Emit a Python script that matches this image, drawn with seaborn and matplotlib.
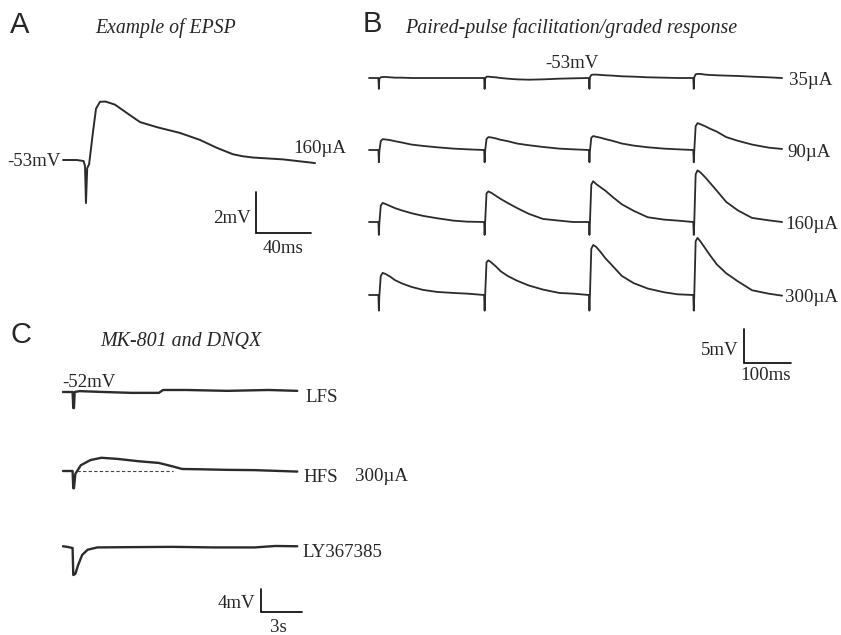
import matplotlib
matplotlib.use("Agg")
import matplotlib.pyplot as plt
import numpy as np
import pandas as pd
import seaborn as sns

# ---------------- DATA ----------------
# Panel A: example EPSP (time in ms, membrane potential in mV)
A_TIME_MS = [0, 10, 15, 16.0, 16.7, 17.6, 19.0, 21.5, 24.0, 26.9, 31.0, 37.8, 46.5, 56.0,
             68.4, 85.1, 99.6, 112.0, 123.6, 131.0, 138.2, 160.0, 183.3]
A_VM_MV = [-53.0, -53.0, -53.05, -53.3, -55.1, -53.4, -53.2, -51.8, -50.5, -50.16,
           -50.15, -50.3, -50.71, -51.15, -51.4, -51.68, -52.02, -52.41, -52.72,
           -52.82, -52.88, -52.97, -53.15]
A_REST = "-53mV"
A_STIM = "160µA"
A_SCALE_MS, A_SCALE_MV = 40, 2

# Panel B: paired-pulse facilitation / graded response (mV relative to -53 mV)
B_CURRENTS = ["35µA", "90µA", "160µA", "300µA"]
B_REST = "-53mV"
B_PULSE_ONSETS_MS = [20, 245, 468, 690]
B_REL_MS = [0, 1, 2, 5, 9, 15, 25, 35, 50, 70, 95, 125, 160, 189]
B_RESP_35 = [[0, -1.6, -0.1, 0.1, 0.15, 0.15, 0.1, 0.05, 0.05, 0, 0, 0, 0, 0],
             [0, -1.6, -0.1, 0.2, 0.2, 0.15, 0.1, 0, -0.1, -0.2, -0.25, -0.2, -0.1, -0.05],
             [0, -1.6, 0.1, 0.45, 0.5, 0.5, 0.45, 0.4, 0.35, 0.25, 0.2, 0.1, 0.05, 0],
             [0, -1.6, 0.1, 0.55, 0.6, 0.6, 0.5, 0.45, 0.4, 0.35, 0.3, 0.2, 0.1, 0.0]]
B_RESP_90 = [[0, -1.8, -0.2, 1.3, 1.6, 1.55, 1.45, 1.3, 1.1, 0.8, 0.6, 0.4, 0.2, 0.1],
             [0, -1.8, -0.2, 1.6, 1.9, 1.85, 1.7, 1.5, 1.3, 0.95, 0.7, 0.45, 0.2, 0.1],
             [0, -1.8, -0.2, 1.8, 2.05, 1.95, 1.8, 1.6, 1.35, 0.95, 0.65, 0.4, 0.2, 0.1],
             [0, -1.8, -0.2, 3.5, 3.95, 3.8, 3.5, 3.15, 2.7, 1.9, 1.35, 0.8, 0.35, 0.15]]
B_RESP_160 = [[0, -1.9, -0.2, 2.4, 2.8, 2.65, 2.35, 2.05, 1.7, 1.3, 0.9, 0.55, 0.2, 0.05],
              [0, -1.9, -0.2, 4.2, 4.5, 4.3, 3.85, 3.4, 2.8, 2.05, 1.2, 0.45, 0.2, 0.0],
              [0, -1.9, -0.2, 5.5, 6.0, 5.6, 5.1, 4.6, 3.7, 2.6, 1.65, 0.7, 0.35, 0.2],
              [0, -1.9, -0.2, 7.0, 7.6, 7.3, 6.6, 5.8, 4.6, 2.95, 1.7, 0.6, 0.25, 0.0]]
B_RESP_300 = [[0, -2.3, -0.2, 2.8, 3.25, 3.1, 2.7, 2.2, 1.7, 1.2, 0.75, 0.45, 0.3, 0.2],
              [0, -2.3, -0.2, 4.8, 5.1, 4.8, 4.2, 3.5, 2.8, 2.1, 1.4, 0.8, 0.3, 0.2],
              [0, -2.3, -0.2, 6.8, 7.35, 7.1, 6.3, 5.4, 4.3, 2.8, 1.75, 0.95, 0.4, 0.1],
              [0, -2.3, -0.2, 7.9, 8.4, 7.9, 6.9, 5.9, 4.5, 3.2, 2.0, 0.7, 0.2, -0.1]]
B_SCALE_MS, B_SCALE_MV = 100, 5

# Panel C: MK-801 and DNQX (time in s, mV relative to -52 mV)
C_TITLE = "MK-801 and DNQX"
C_REST = "-52mV"
C_CONDITIONS = ["LFS", "HFS", "LY367385"]
C_STIM = "300µA"
C_LFS_T_S = [0, 0.7, 0.75, 0.8, 0.85, 1.2, 3, 5, 7, 7.3, 9, 12, 15, 17.1]
C_LFS_MV = [0, 0, -2.8, -2.8, 0, 0.15, 0, -0.15, -0.15, 0.35, 0.35, 0.2, 0.35, 0.2]
C_HFS_T_S = [0, 0.7, 0.75, 0.8, 0.9, 1.3, 2.0, 2.8, 4, 5.5, 7, 8, 8.7, 10, 12, 14, 17.1]
C_HFS_MV = [0, 0, -3.0, -3.0, -0.5, 1.0, 1.9, 2.3, 2.1, 1.7, 1.4, 0.8, 0.35, 0.3, 0.2, 0.15, -0.1]
C_LY_T_S = [0, 0.3, 0.7, 0.75, 0.9, 1.1, 1.4, 1.8, 2.5, 5, 8, 11, 14, 15.5, 17.1]
C_LY_MV = [0.3, 0.2, 0, -4.7, -4.5, -3.0, -1.2, -0.3, 0.1, 0.15, 0.2, 0.1, 0.1, 0.35, 0.3]
C_HFS_BASELINE_SPAN_S = (1.0, 8.0)
C_SCALE_S, C_SCALE_MV = 3, 4

# ---------------- STYLE / LAYOUT ----------------
sns.set_theme(style="white")
plt.rcParams["font.family"] = ["Liberation Serif", "DejaVu Serif"]
W, H = 841, 635
fig = plt.figure(figsize=(W / 100, H / 100), dpi=100)
TRACE = "#2b2b2b"
FS = 13.6
FS_TITLE = 14.2
SANS = ["Liberation Sans", "DejaVu Sans"]


def px_axes(box, x_org, x0, sx, y_org, y0, sy):
    """box=(left, top, right, bottom) in pixels; (x_org,y_org) pixel maps to (x0,y0);
    sx, sy: pixels per data unit."""
    l, t, r, b = box
    ax = fig.add_axes([l / W, 1 - b / H, (r - l) / W, (b - t) / H])
    ax.set_xlim(x0 + (l - x_org) / sx, x0 + (r - x_org) / sx)
    ax.set_ylim(y0 - (b - y_org) / sy, y0 - (t - y_org) / sy)
    ax.axis("off")
    return ax


def ftext(x, y, s, **kw):
    kw.setdefault("fontsize", FS)
    fig.text(x / W, 1 - y / H, s, ha="left", va="baseline", **kw)


def scalebar(ax, x, y, dx, dy):
    ax.plot([x, x, x + dx], [y + dy, y, y], color="black", lw=1.2, solid_joinstyle="miter")


# ---------------- PANEL A ----------------
axA = px_axes((0, 40, 360, 300), 63, 0, 1.375, 160, -53, 20.5)
dfA = pd.DataFrame({"t": A_TIME_MS, "v": A_VM_MV})
sns.lineplot(data=dfA, x="t", y="v", ax=axA, color=TRACE, lw=1.4, estimator=None, sort=False)
scalebar(axA, 140.4, -56.56, A_SCALE_MS, A_SCALE_MV)
axA.set_xlabel(""); axA.set_ylabel("")

ftext(10, 33, "A", fontsize=21, family=SANS)
ftext(95, 33, "Example of EPSP", style="italic", fontsize=FS_TITLE)
ftext(7, 166, A_REST)
ftext(293, 153, A_STIM)
ftext(213, 223, f"{A_SCALE_MV}mV")
ftext(263, 253, f"{A_SCALE_MS}ms")

# ---------------- PANEL B ----------------
axB = px_axes((355, 40, 841, 400), 369, 0, 0.47, 78, 0, 6.8)
row_base_px = [78, 150, 222, 295]
rows = []
for cur, resp, yb in zip(B_CURRENTS, [B_RESP_35, B_RESP_90, B_RESP_160, B_RESP_300], row_base_px):
    off = -(yb - 78) / 6.8
    ts = [0.0] + [on + r for on in B_PULSE_ONSETS_MS for r in B_REL_MS]
    vs = [0.0] + [v for pulse in resp for v in pulse]
    rows.append(pd.DataFrame({"t": ts, "v": np.array(vs) + off, "cur": cur}))
dfB = pd.concat(rows, ignore_index=True)
sns.lineplot(data=dfB, x="t", y="v", units="cur", estimator=None, ax=axB,
             color=TRACE, lw=1.3, sort=False)
axB.set_xlabel(""); axB.set_ylabel("")
scalebar(axB, (744 - 369) / 0.47, (78 - 363) / 6.8, B_SCALE_MS, B_SCALE_MV)

ftext(363, 32, "B", fontsize=21, family=SANS)
ftext(405, 33, "Paired-pulse facilitation/graded response", style="italic", fontsize=14.4)
ftext(545, 68, B_REST)
for cur, yb, xl in zip(B_CURRENTS, row_base_px, [789, 787, 785, 785]):
    ftext(xl, yb + 7, cur)
ftext(701, 355, f"{B_SCALE_MV}mV")
ftext(740, 380, f"{B_SCALE_MS}ms")

# ---------------- PANEL C ----------------
axC = px_axes((0, 360, 420, 635), 63, 0, 13.7, 392, 0, 5.75)
c_base_px = [392, 471, 548]
partsC = []
for name, ts, vs, yb in zip(C_CONDITIONS, [C_LFS_T_S, C_HFS_T_S, C_LY_T_S],
                            [C_LFS_MV, C_HFS_MV, C_LY_MV], c_base_px):
    off = -(yb - 392) / 5.75
    partsC.append(pd.DataFrame({"t": ts, "v": np.array(vs) + off, "cond": name}))
dfC = pd.concat(partsC, ignore_index=True)
sns.lineplot(data=dfC, x="t", y="v", units="cond", estimator=None, ax=axC,
             color=TRACE, lw=1.7, sort=False)
axC.set_xlabel(""); axC.set_ylabel("")
hfs_off = -(471 - 392) / 5.75
axC.plot(list(C_HFS_BASELINE_SPAN_S), [hfs_off, hfs_off], color="#444444", lw=0.8,
         ls=(0, (3, 2)))
scalebar(axC, (261 - 63) / 13.7, (392 - 612) / 5.75, C_SCALE_S, C_SCALE_MV)

ftext(10, 343, "C", fontsize=21, family=SANS)
ftext(100, 346, C_TITLE, style="italic", fontsize=14.4)
ftext(62, 387, C_REST)
ftext(305, 402, C_CONDITIONS[0])
ftext(303, 482, C_CONDITIONS[1])
ftext(355, 481, C_STIM)
ftext(302, 557, C_CONDITIONS[2])
ftext(218, 608, f"{C_SCALE_MV}mV")
ftext(270, 632, f"{C_SCALE_S}s")

fig.savefig("out.png", dpi=100, facecolor="white")
